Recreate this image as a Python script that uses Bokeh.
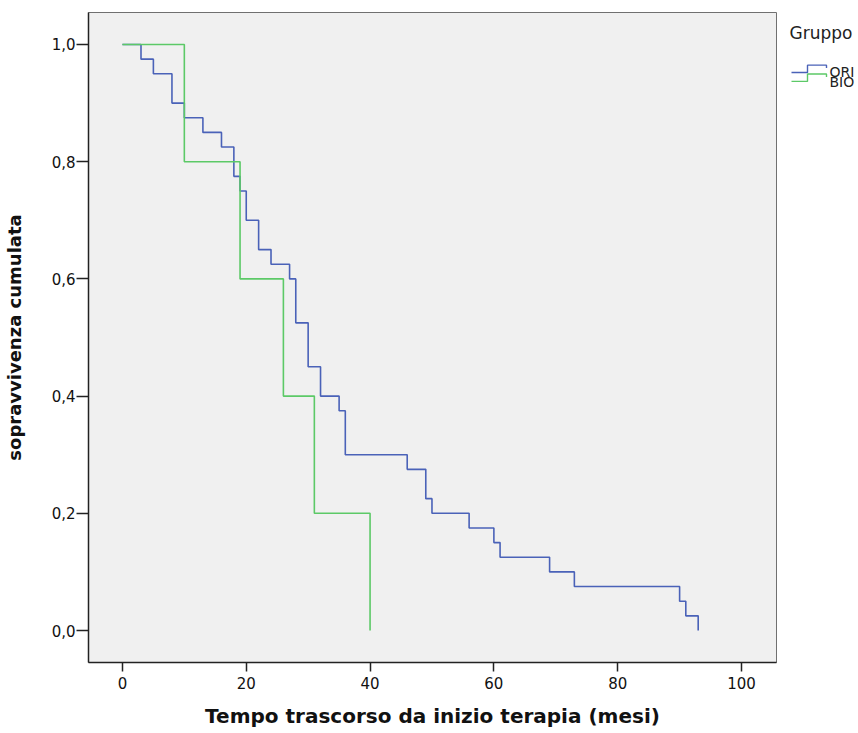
from bokeh.plotting import figure
from bokeh.layouts import row
from bokeh.models import Range1d, FixedTicker, CustomJSTickFormatter
from bokeh.core.properties import value
from bokeh.embed import file_html
from bokeh.resources import INLINE

# Kaplan-Meier estimates
ori_time = [0, 3, 5, 8, 10, 13, 16, 18, 19, 20, 22, 24, 27, 28, 30, 32, 35, 36,
            46, 49, 50, 56, 60, 61, 69, 73, 90, 91, 93]
ori_surv = [1.0, 0.975, 0.95, 0.9, 0.875, 0.85, 0.825, 0.775, 0.75, 0.70, 0.65,
            0.625, 0.60, 0.525, 0.45, 0.40, 0.375, 0.30, 0.275, 0.225, 0.20,
            0.175, 0.15, 0.125, 0.10, 0.075, 0.05, 0.025, 0.0]
bio_time = [0, 10, 19, 26, 31, 40]
bio_surv = [1.0, 0.8, 0.6, 0.4, 0.2, 0.0]

x_ticks = [0, 20, 40, 60, 80, 100]
y_ticks = [0.0, 0.2, 0.4, 0.6, 0.8, 1.0]
groups = ["ORI", "BIO"]
colors = ["#4a62b8", "#5cc967"]

FONT = "DejaVu Sans"

p = figure(width=778, height=733, output_backend="svg", toolbar_location=None,
           x_range=Range1d(-5.48, 105.65), y_range=Range1d(-0.0546, 1.0546),
           min_border_left=88, min_border_right=2, min_border_top=12,
           min_border_bottom=71)
p.background_fill_color = "#f0f0f0"
p.border_fill_color = "white"
p.outline_line_color = "#707070"
p.outline_line_width = 1
p.grid.visible = False

p.step(ori_time, ori_surv, mode="after", line_color=colors[0], line_width=1.6)
p.step(bio_time, bio_surv, mode="after", line_color=colors[1], line_width=1.6)

for ax in (p.xaxis[0], p.yaxis[0]):
    ax.axis_line_color = "#222222"
    ax.axis_line_width = 1.5
    ax.major_tick_line_color = "#222222"
    ax.major_tick_line_width = 1.5
    ax.major_tick_in = 0
    ax.minor_tick_line_color = None
    ax.major_label_text_font = FONT
    ax.major_label_text_font_size = "15px"
    ax.major_label_text_color = "#111111"
    ax.axis_label_text_font = FONT
    ax.axis_label_text_font_style = "bold"
    ax.axis_label_text_color = "#111111"

p.xaxis.ticker = FixedTicker(ticks=x_ticks)
p.yaxis.ticker = FixedTicker(ticks=y_ticks)
p.yaxis.formatter = CustomJSTickFormatter(code="return tick.toFixed(1).replace('.', ',');")
p.xaxis.major_tick_out = 9
p.yaxis.major_tick_out = 12
p.xaxis.major_label_standoff = 5
p.yaxis.major_label_standoff = 1
p.xaxis.axis_label = "Tempo trascorso da inizio terapia (mesi)"
p.yaxis.axis_label = "sopravvivenza cumulata"
p.xaxis.axis_label_text_font_size = "20px"
p.yaxis.axis_label_text_font_size = "18px"
p.xaxis.axis_label_standoff = 12
p.yaxis.axis_label_standoff = 24

# legend panel (screen-like coordinates)
lg = figure(width=80, height=733, output_backend="svg", toolbar_location=None,
            title=None,
            x_range=Range1d(0, 80), y_range=Range1d(733, 0),
            x_axis_location=None, y_axis_location=None,
            min_border=0, min_border_left=0, min_border_right=0,
            min_border_top=0, min_border_bottom=0)
lg.grid.visible = False
lg.outline_line_color = None
lg.background_fill_color = "white"
lg.border_fill_color = "white"

lg.text(x=[11], y=[23], text=["Gruppo"], text_font=value(FONT),
        text_font_size="17px", text_color="#222222", text_baseline="middle")
icon_x = [13, 29, 29, 48, 48]
for i, (g, c) in enumerate(zip(groups, colors)):
    base = 67.7 + i * 10.0
    lg.line(icon_x, [base, base, base - 8.3, base - 8.3, base - 5], line_color=c, line_width=1.4)
    lg.text(x=[51], y=[67 + i * 11], text=[g], text_font=value(FONT),
            text_font_size="14px", text_color="#222222", text_baseline="middle")

layout = row(p, lg)
open("out.html", "w").write(file_html(layout, INLINE))
